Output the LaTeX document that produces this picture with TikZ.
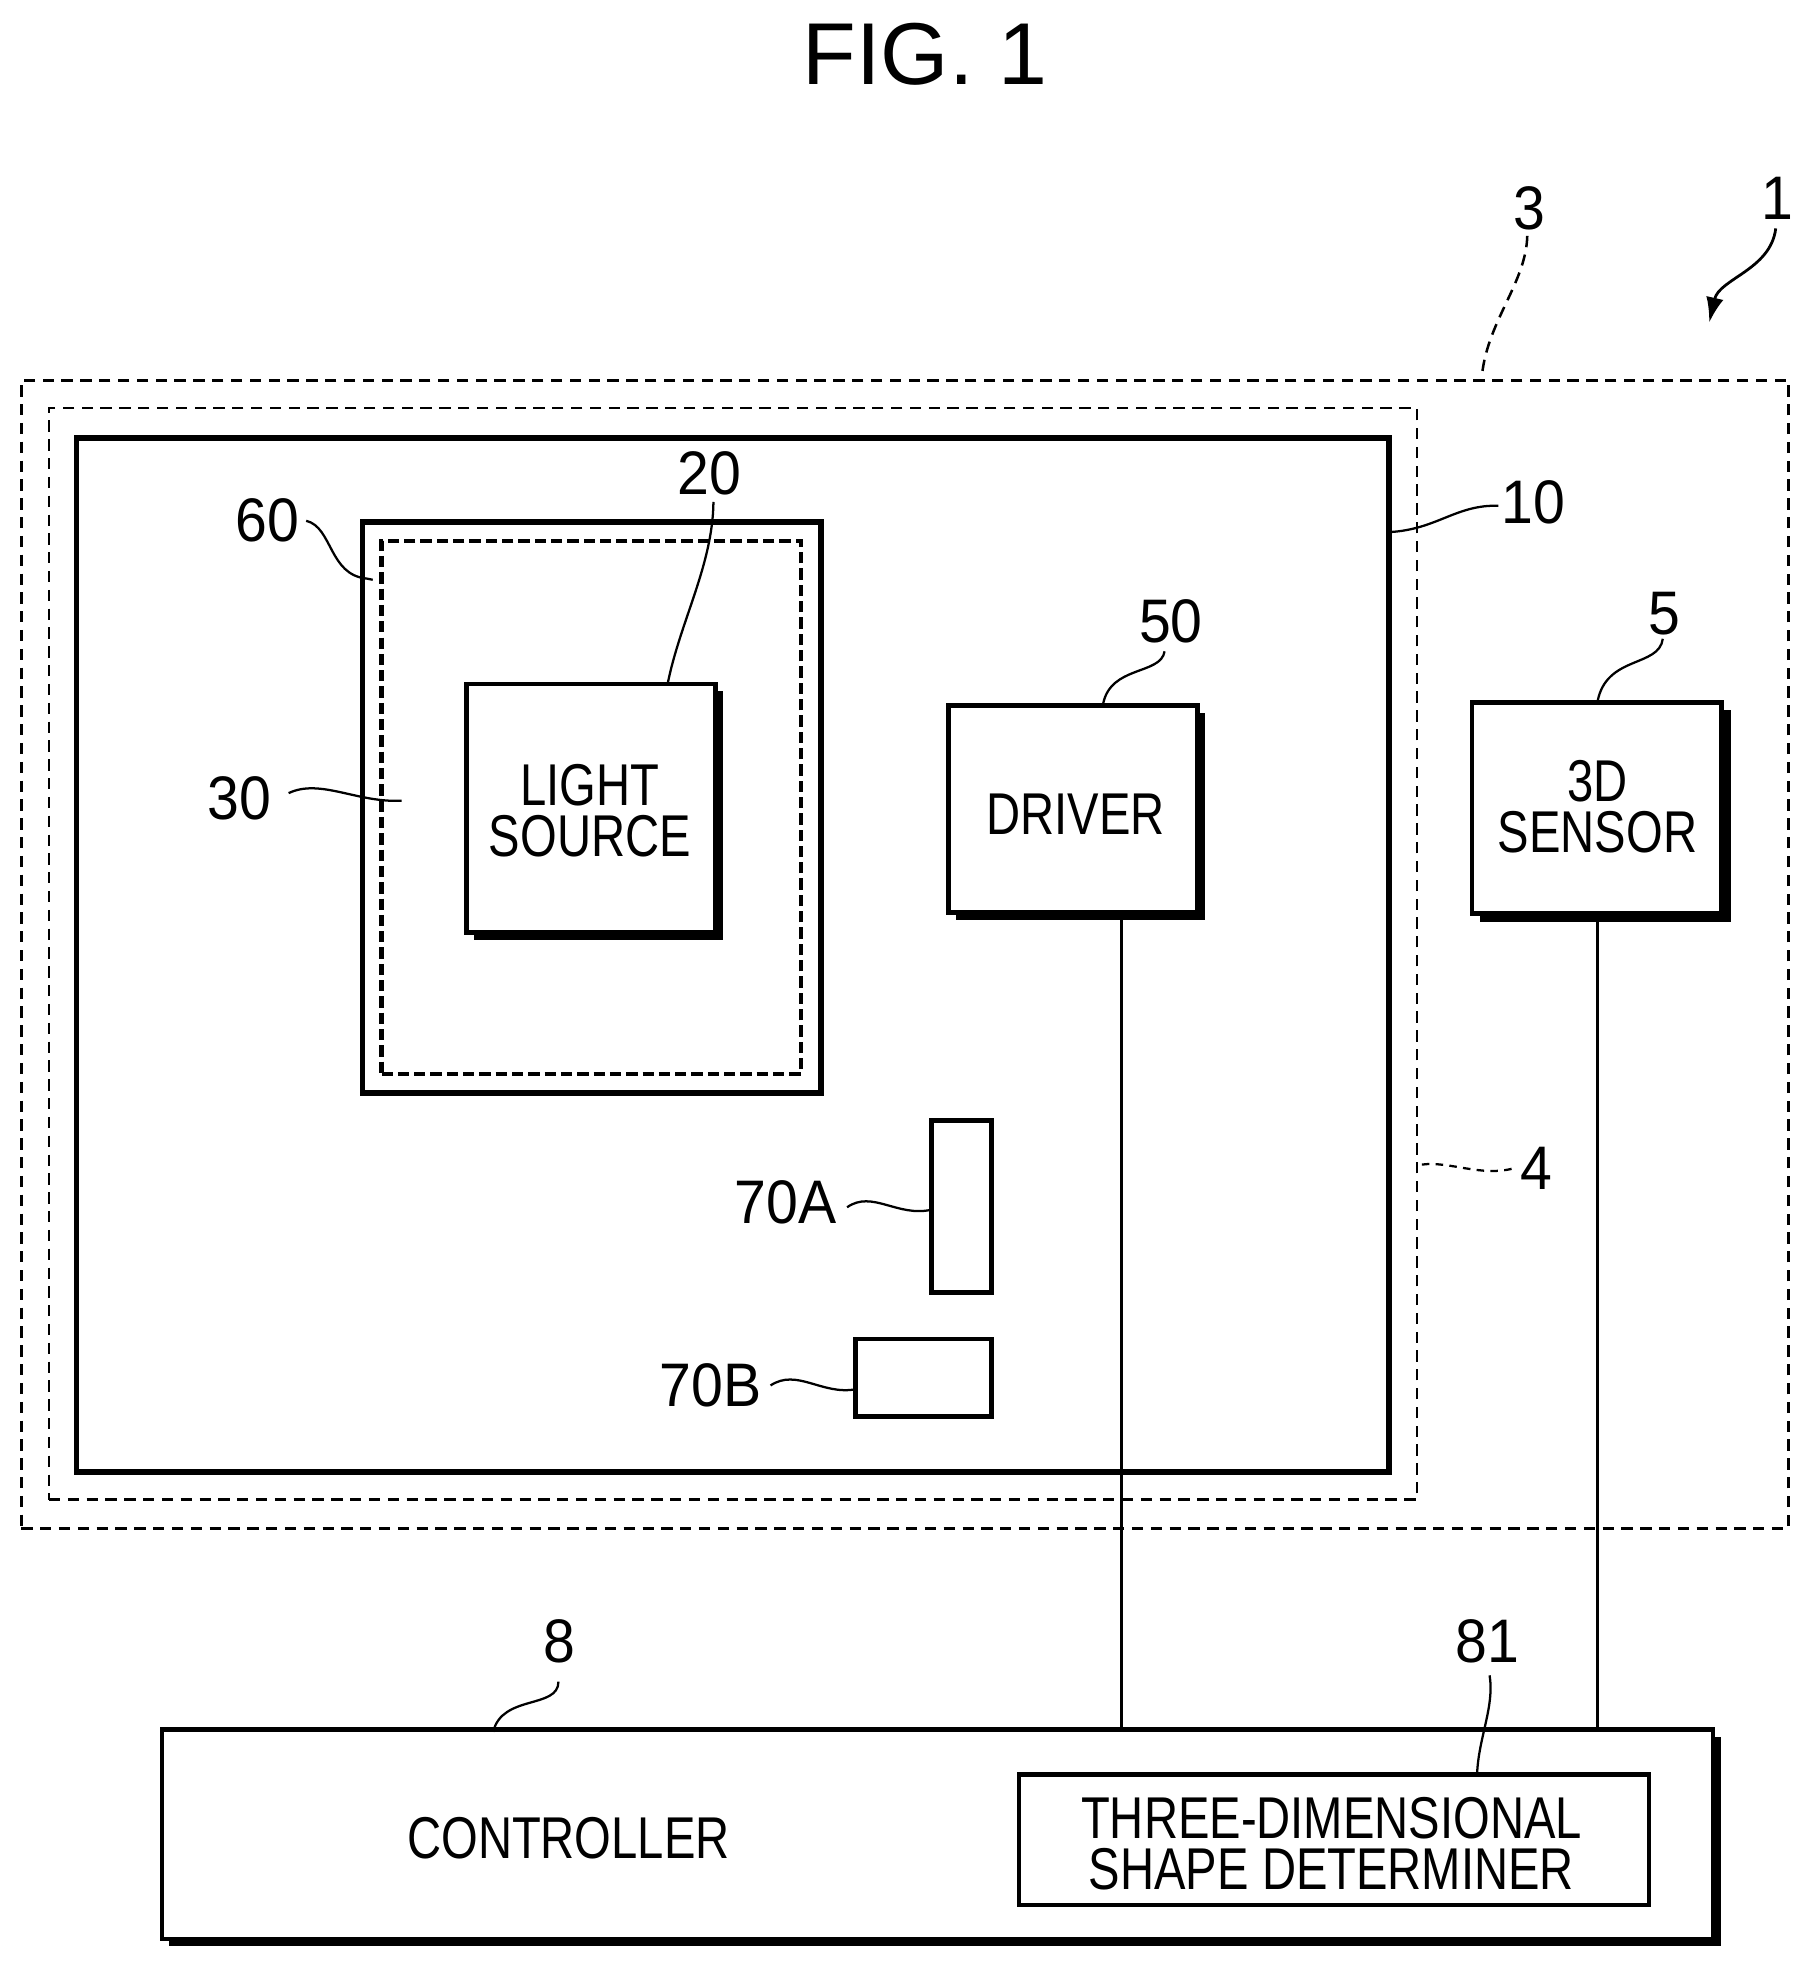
\documentclass[tikz,border=0pt]{standalone}
\usepackage{fontspec}
\usetikzlibrary{arrows.meta}
\setmainfont{Liberation Sans}
\newfontfamily\condf[FakeStretch=0.8]{Liberation Sans}
\newfontfamily\numf[FakeStretch=0.93]{Liberation Sans}
\begin{document}
\begin{tikzpicture}[x=1pt,y=-1pt,
  every node/.style={inner sep=0pt,outer sep=0pt},
  dashbox/.style={draw,dash pattern=on 9pt off 6pt,line width=2pt},
  thickbox/.style={draw,line width=4.4pt},
  shadowbox/.style={draw,fill=white,line width=3.8pt,align=center},
  blocktext/.style={font=\condf\fontsize{47}{40.5}\selectfont,align=center},
  smallbox/.style={draw,line width=3.8pt},
  shadowfill/.style={fill=black},
  lab/.style={font=\numf\fontsize{49}{49}\selectfont},
  leader/.style={line width=1.8pt},
  wire/.style={line width=2.3pt}]
\useasboundingbox (0,0) rectangle (1443,1569);
\fill[white] (0,0) rectangle (1443,1569);
\node[font=\fontsize{70}{70}\selectfont] (title) at (737,43) {FIG. 1};

% enclosures
\node[dashbox,minimum width=1408pt,minimum height=915pt] (box3) at (721,760.5) {};
\node[dashbox,minimum width=1090pt,minimum height=870pt] (box4) at (584,760) {};
\node[thickbox,minimum width=1046pt,minimum height=824pt] (box10) at (584,761) {};
\node[thickbox,minimum width=365pt,minimum height=455pt] (box60) at (471.5,643.5) {};
\node[draw,line width=3.2pt,dash pattern=on 9pt off 4pt,minimum width=334pt,minimum height=425pt] (box30) at (471,643.5) {};

% shadows
\fill[shadowfill] (378,551) rectangle (576,749);
\fill[shadowfill] (762,568) rectangle (960,733);
\fill[shadowfill] (1179,566) rectangle (1379,735);
\fill[shadowfill] (135,1384) rectangle (1371,1551);

% blocks
\node[shadowbox,minimum width=198pt,minimum height=198pt] (light) at (471,644) {};
\node[blocktext] (lighttext) at (470,646) {LIGHT\\SOURCE};
\node[shadowbox,minimum width=198pt,minimum height=165pt] (driver) at (855,644.5) {};
\node[blocktext] (drivertext) at (857,649) {DRIVER};
\node[shadowbox,minimum width=199pt,minimum height=168pt] (sensor) at (1272.5,644) {};
\node[blocktext] (sensortext) at (1273,643) {3D\\SENSOR};
\node[smallbox,minimum width=48pt,minimum height=137pt] (a70) at (766,961.5) {};
\node[smallbox,minimum width=108pt,minimum height=62pt] (b70) at (736,1098) {};
\node[shadowbox,minimum width=1236pt,minimum height=167pt] (ctrl) at (747,1461.5) {};
\node[blocktext] (ctrltext) at (453,1465) {CONTROLLER};
\node[smallbox,minimum width=502pt,minimum height=104pt] (det) at (1063,1466) {};
\node[blocktext] (dettext) at (1061,1469) {THREE-DIMENSIONAL\\SHAPE DETERMINER};

% wires
\coordinate (dwt) at (894,733);
\coordinate (dwb) at (894,1378);
\coordinate (swt) at (1273,735);
\coordinate (swb) at (1273,1378);
\draw[wire] (dwt) -- (dwb);
\draw[wire] (swt) -- (swb);

% reference labels
\node[lab] (l1) at (1416,158) {1};
\node[lab] (l3) at (1219,166) {3};
\node[lab] (l10) at (1222,400) {10};
\node[lab] (l20) at (565,377) {20};
\node[lab] (l60) at (213,415) {60};
\node[lab] (l30) at (191,636) {30};
\node[lab] (l50) at (933,495) {50};
\node[lab] (l5) at (1326,489) {5};
\node[lab] (l4) at (1224,931) {4};
\node[lab] (l70a) at (626,958) {70A};
\node[lab] (l70b) at (566,1104) {70B};
\node[lab] (l8) at (446,1308) {8};
\node[lab] (l81) at (1185,1308) {81};

% leader ends
\coordinate (e1) at (1362,257);
\coordinate (e3) at (1181,298);
\coordinate (e10) at (1107,424);
\coordinate (e20) at (532,545);
\coordinate (e60) at (297,462);
\coordinate (e30) at (320,638);
\coordinate (e50) at (879,561);
\coordinate (e5) at (1273,559);
\coordinate (e4) at (1133,928);
\coordinate (e70a) at (742,964);
\coordinate (e70b) at (682,1107);
\coordinate (e8) at (393,1380);
\coordinate (e81) at (1177,1414);
\coordinate (s1) at (1415,182);
\coordinate (s3) at (1217,188);
\coordinate (s10) at (1194,403);
\coordinate (s20) at (568.5,400);
\coordinate (s60) at (244,415);
\coordinate (s30) at (230,632);
\coordinate (s50) at (928,519);
\coordinate (s5) at (1325,509);
\coordinate (s4) at (1206,931);
\coordinate (s70a) at (675,962);
\coordinate (s70b) at (614,1104);
\coordinate (s8) at (445,1340);
\coordinate (s81) at (1187,1335);

\draw[line width=2.2pt,-{Latex[length=20pt,width=14pt]}] (s1) .. controls (1411,215) and (1370,222) .. (e1);
\draw[line width=2pt,dash pattern=on 9pt off 6pt] (s3) .. controls (1216,225) and (1186,255) .. (e3);
\draw[leader] (s10) .. controls (1160,402) and (1145,422) .. (e10);
\draw[leader] (s20) .. controls (568,450) and (542,495) .. (e20);
\draw[leader] (s60) .. controls (265,420) and (262,458) .. (292,461) -- (e60);
\draw[leader] (s30) .. controls (255,620) and (285,640) .. (e30);
\draw[leader] (s50) .. controls (925,538) and (885,530) .. (e50);
\draw[leader] (s5) .. controls (1322,532) and (1280,522) .. (e5);
\draw[leader,dash pattern=on 6pt off 5pt] (e4) .. controls (1155,925) and (1180,938) .. (s4);
\draw[leader] (s70a) .. controls (695,948) and (715,970) .. (e70a);
\draw[leader] (s70b) .. controls (635,1090) and (655,1112) .. (e70b);
\draw[leader] (s8) .. controls (445,1362) and (400,1350) .. (e8);
\draw[leader] (s81) .. controls (1191,1360) and (1178,1385) .. (e81);
\end{tikzpicture}
\end{document}
